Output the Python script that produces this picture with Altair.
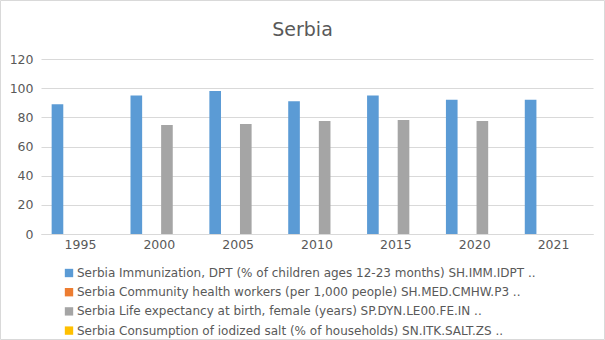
import altair as alt
import pandas as pd

years = ["1995", "2000", "2005", "2010", "2015", "2020", "2021"]
series = [
    "Serbia Immunization, DPT (% of children ages 12-23 months) SH.IMM.IDPT ..",
    "Serbia Community health workers (per 1,000 people) SH.MED.CMHW.P3 ..",
    "Serbia Life expectancy at birth, female (years) SP.DYN.LE00.FE.IN ..",
    "Serbia Consumption of iodized salt (% of households) SN.ITK.SALT.ZS ..",
]
colors = ["#5b9bd5", "#ed7d31", "#a5a5a5", "#ffc000"]
immunization = [89, 95, 98, 91, 95, 92, 92]
health_workers = [None, None, None, None, None, None, None]
life_expectancy = [None, 74.8, 75.4, 77.5, 78.2, 77.5, None]
iodized_salt = [None, None, None, None, None, None, None]
title_text = "Serbia"

rows = []
for vals, s in zip([immunization, health_workers, life_expectancy, iodized_salt], series):
    for y, v in zip(years, vals):
        rows.append({"year": y, "series": s, "value": v})
df = pd.DataFrame(rows)

FONT = "DejaVu Sans"
GREY = "#595959"

bars = alt.Chart(df).mark_bar().encode(
    x=alt.X("year:N", sort=years, title=None,
            scale=alt.Scale(paddingInner=0.27, paddingOuter=0.135),
            axis=alt.Axis(labelAngle=0, labelColor=GREY, labelFontSize=12.5, labelFont=FONT,
                          domainColor="#d9d9d9", ticks=False, labelPadding=4, grid=False)),
    xOffset=alt.XOffset("series:N", sort=series, scale=alt.Scale(domain=series, paddingInner=0.24)),
    y=alt.Y("value:Q", title=None,
            scale=alt.Scale(domain=[0, 120]),
            axis=alt.Axis(values=[0, 20, 40, 60, 80, 100, 120], labelColor=GREY, labelFontSize=12.5,
                          labelFont=FONT, domain=False, ticks=False, gridColor="#d9d9d9",
                          labelPadding=8)),
    color=alt.Color("series:N", sort=series,
                    scale=alt.Scale(domain=series, range=colors),
                    legend=alt.Legend(orient="none", legendX=22, legendY=208, direction="vertical",
                                      title=None, symbolType="square", symbolSize=70,
                                      symbolStrokeWidth=0, labelFont=FONT, labelFontSize=12,
                                      labelColor=GREY, rowPadding=7.2, labelLimit=600,
                                      labelOffset=2, symbolOffset=0)),
)

title = alt.Chart(pd.DataFrame({"t": [title_text]})).mark_text(
    font=FONT, fontSize=19, color=GREY, align="center", baseline="alphabetic"
).encode(text="t:N", x=alt.value(261.5), y=alt.value(-23))

border = alt.Chart(pd.DataFrame({"a": [0]})).mark_rect(
    fill=None, stroke="#d9d9d9", strokeWidth=1
).encode(x=alt.value(-40.5), y=alt.value(-58.5), x2=alt.value(563.5), y2=alt.value(280.5))

chart = alt.layer(bars, title, border).properties(
    width=552, height=175,
    autosize=alt.AutoSizeParams(type="none"),
    padding={"left": 41, "top": 59, "right": 12, "bottom": 106},
).configure_view(stroke=None)

chart.save("out.html", embed_options={"renderer": "svg", "actions": False})
